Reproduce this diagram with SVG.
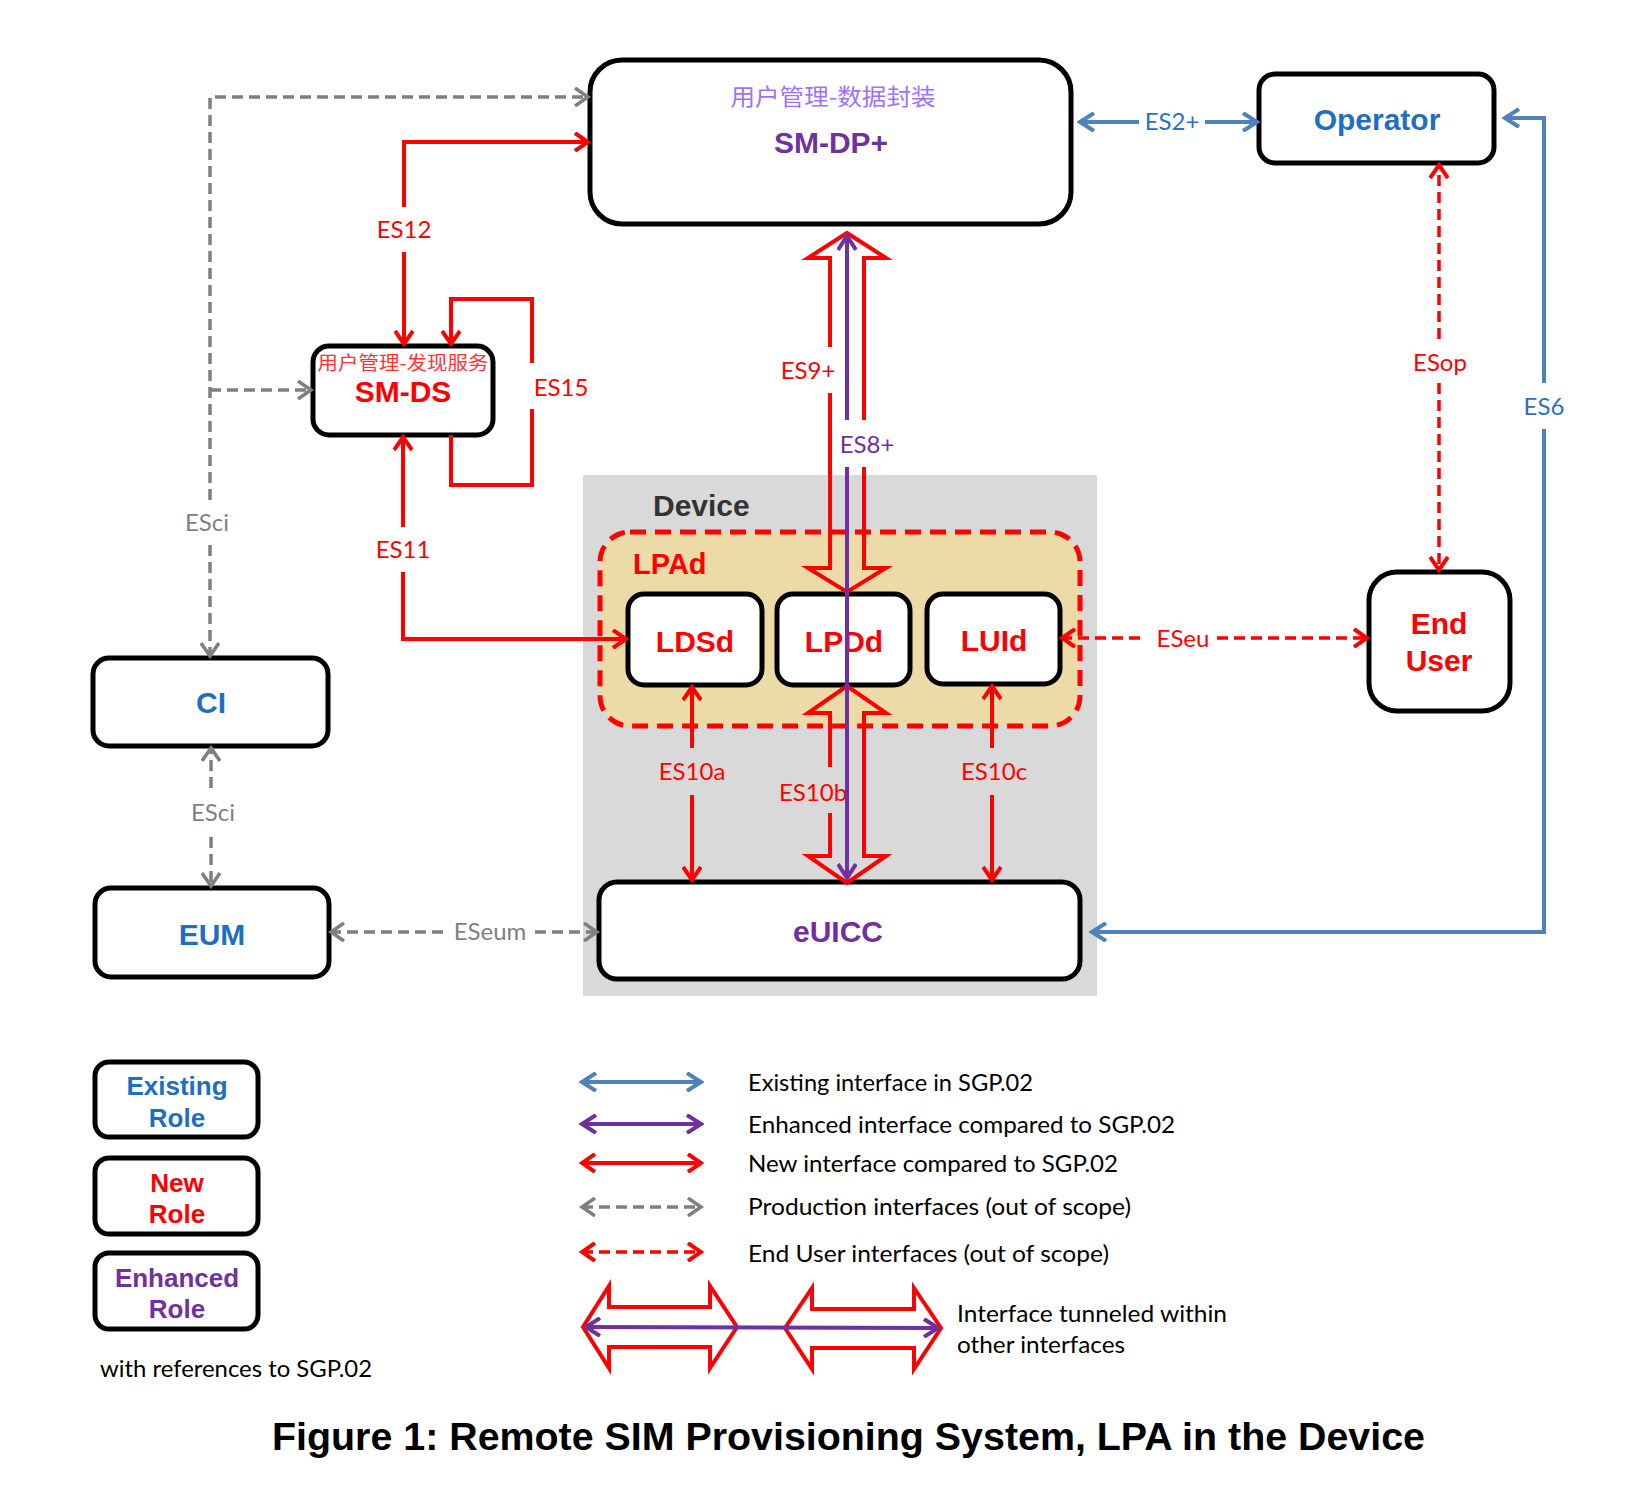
<svg xmlns="http://www.w3.org/2000/svg" width="1646" height="1486" viewBox="0 0 1646 1486">
<style>
.box{fill:#fff;stroke:#000;stroke-width:5}
.bl{font-family:"Liberation Sans",Arial,sans-serif;font-weight:bold;text-anchor:middle}
.lbl{font-family:Lato,"Liberation Sans",sans-serif;font-size:24px;text-anchor:middle}
.leg{font-family:Lato,"Liberation Sans",sans-serif;font-size:24px;fill:#000}
.cn{font-family:"Noto Sans CJK SC","Noto Sans",sans-serif;text-anchor:middle}
.red{fill:#ff0000}.pur{fill:#7030a0}.blu{fill:#1f6fc1}.gry{fill:#7f7f7f}
.cr{fill:none;stroke:#ff0000;stroke-width:4}
.cb{fill:none;stroke:#4f81bd;stroke-width:4}
.cp{fill:none;stroke:#7030a0;stroke-width:4}
.cg{fill:none;stroke:#7f7f7f;stroke-width:3.5;stroke-dasharray:11 6}
.crd{fill:none;stroke:#ff0000;stroke-width:3.5;stroke-dasharray:11 6}
.hol{fill:none;stroke:#ff0000;stroke-width:4;stroke-linejoin:miter}
</style>
<defs>
<marker id="mr" viewBox="0 0 20 20" refX="17" refY="10" markerWidth="20" markerHeight="20" markerUnits="userSpaceOnUse" orient="auto-start-reverse"><path d="M4,1 L17,10 L4,19" fill="none" stroke="#ff0000" stroke-width="4"/></marker>
<marker id="mb" viewBox="0 0 20 20" refX="17" refY="10" markerWidth="20" markerHeight="20" markerUnits="userSpaceOnUse" orient="auto-start-reverse"><path d="M3,1 L17,10 L3,19" fill="none" stroke="#4f81bd" stroke-width="4"/></marker>
<marker id="mp" viewBox="0 0 20 20" refX="17" refY="10" markerWidth="20" markerHeight="20" markerUnits="userSpaceOnUse" orient="auto-start-reverse"><path d="M3,1 L17,10 L3,19" fill="none" stroke="#7030a0" stroke-width="4"/></marker>
<marker id="mg" viewBox="0 0 20 20" refX="17" refY="10" markerWidth="20" markerHeight="20" markerUnits="userSpaceOnUse" orient="auto-start-reverse"><path d="M4,1 L17,10 L4,19" fill="none" stroke="#7f7f7f" stroke-width="3.5"/></marker>
</defs>
<rect width="1646" height="1486" fill="#fff"/>

<g id="device">
<rect x="583" y="475" width="514" height="521" fill="#d9d9d9"/>
<text x="653" y="516" font-family="Liberation Sans,Arial,sans-serif" font-weight="bold" font-size="30" fill="#333">Device</text>
</g>
<g id="lpad">
<rect x="600" y="532" width="480" height="194" rx="30" fill="#ecdba6" stroke="#ff0000" stroke-width="5" stroke-dasharray="16 9"/>
<text x="633" y="574" font-family="Liberation Sans,Arial,sans-serif" font-weight="bold" font-size="29" class="red">LPAd</text>
</g>

<g id="smdp">
<rect class="box" x="590" y="60" width="481" height="164" rx="32"/>
<text class="cn" x="833" y="105" font-size="23" fill="#a070ff" textLength="205" lengthAdjust="spacingAndGlyphs">用户管理-数据封装</text>
<text class="bl pur" x="831" y="153" font-size="30">SM-DP+</text>
</g>
<g id="operator">
<rect class="box" x="1259" y="74" width="235" height="89" rx="16"/>
<text class="bl blu" x="1377" y="130" font-size="30">Operator</text>
</g>
<g id="smds">
<rect class="box" x="313" y="346" width="180" height="89" rx="16"/>
<text class="cn" x="403" y="370" font-size="19" fill="#ff3333" textLength="171" lengthAdjust="spacingAndGlyphs">用户管理-发现服务</text>
<text class="bl red" x="403" y="402" font-size="30">SM-DS</text>
</g>
<g id="ci">
<rect class="box" x="93" y="658" width="235" height="88" rx="16"/>
<text class="bl blu" x="211" y="713" font-size="30">CI</text>
</g>
<g id="eum">
<rect class="box" x="95" y="888" width="234" height="89" rx="16"/>
<text class="bl blu" x="212" y="945" font-size="30">EUM</text>
</g>
<g id="enduser">
<rect class="box" x="1369" y="572" width="141" height="139" rx="28"/>
<text class="bl red" x="1439" y="634" font-size="30">End</text>
<text class="bl red" x="1439" y="671" font-size="30">User</text>
</g>
<g id="ldsd">
<rect class="box" x="628" y="594" width="134" height="91" rx="16"/>
<text class="bl red" x="695" y="652" font-size="30">LDSd</text>
</g>
<g id="lpdd">
<rect class="box" x="777" y="594" width="133" height="91" rx="16"/>
<text class="bl red" x="844" y="652" font-size="30">LPDd</text>
</g>
<g id="luid">
<rect class="box" x="927" y="594" width="133" height="90" rx="16"/>
<text class="bl red" x="994" y="651" font-size="30">LUId</text>
</g>
<g id="euicc">
<rect class="box" x="599" y="882" width="481" height="97" rx="18"/>
<text class="bl pur" x="838" y="942" font-size="30">eUICC</text>
</g>

<g id="connectors">
<!-- ES12 -->
<path class="cr" d="M404,207 L404,142 L588,142" marker-end="url(#mr)"/>
<path class="cr" d="M404,252 L404,344" marker-end="url(#mr)"/>
<text class="lbl red" x="404" y="238">ES12</text>
<!-- ES15 -->
<path class="cr" d="M451,435 L451,485 L532,485 L532,409"/>
<path class="cr" d="M532,363 L532,299 L451,299 L451,344" marker-end="url(#mr)"/>
<text class="lbl red" x="561" y="396">ES15</text>
<!-- ES11 -->
<path class="cr" d="M403,527 L403,437" marker-end="url(#mr)"/>
<path class="cr" d="M403,572 L403,639 L626,639" marker-end="url(#mr)"/>
<text class="lbl red" x="403" y="558">ES11</text>
<!-- ES9+ hollow -->
<path class="hol" d="M830,347 L830,258 L808,258 L847,233 L886,258 L864,258 L864,420"/>
<path class="hol" d="M864,467 L864,568 L886,568 L847,592 L808,568 L830,568 L830,393"/>
<text class="lbl red" x="808" y="379">ES9+</text>
<!-- ES10b hollow -->
<path class="hol" d="M830,767 L830,713 L808,713 L847,686 L886,713 L864,713 L864,856 L886,856 L847,883 L808,856 L830,856 L830,813"/>
<text class="lbl red" x="813" y="801">ES10b</text>
<!-- ES8+ -->
<path class="cp" d="M847,420 L847,236" marker-end="url(#mp)"/>
<path class="cp" d="M847,467 L847,878" marker-end="url(#mp)"/>
<text class="lbl pur" x="867" y="453">ES8+</text>
<!-- ES10a -->
<path class="cr" d="M692,748 L692,687" marker-end="url(#mr)"/>
<path class="cr" d="M692,795 L692,880" marker-end="url(#mr)"/>
<text class="lbl red" x="692" y="780">ES10a</text>
<!-- ES10c -->
<path class="cr" d="M992,748 L992,686" marker-end="url(#mr)"/>
<path class="cr" d="M992,795 L992,880" marker-end="url(#mr)"/>
<text class="lbl red" x="994" y="780">ES10c</text>
<!-- ESci / production -->
<path class="cg" d="M210,500 L210,97 L588,97" marker-end="url(#mg)"/>
<path class="cg" d="M210,390 L311,390" marker-end="url(#mg)"/>
<path class="cg" d="M210,545 L210,656" marker-end="url(#mg)"/>
<text class="lbl gry" x="207" y="531">ESci</text>
<path class="cg" d="M211,788 L211,748" marker-end="url(#mg)"/>
<path class="cg" d="M211,837 L211,886" marker-end="url(#mg)"/>
<text class="lbl gry" x="213" y="821">ESci</text>
<path class="cg" d="M443,932 L331,932" marker-end="url(#mg)"/>
<path class="cg" d="M535,932 L597,932" marker-end="url(#mg)"/>
<text class="lbl gry" x="490" y="940">ESeum</text>
<!-- ESeu -->
<path class="crd" d="M1140,638 L1062,638" marker-end="url(#mr)"/>
<path class="crd" d="M1217,638 L1367,638" marker-end="url(#mr)"/>
<text class="lbl red" x="1183" y="647">ESeu</text>
<!-- ESop -->
<path class="crd" d="M1439,339 L1439,165" marker-end="url(#mr)"/>
<path class="crd" d="M1439,383 L1439,570" marker-end="url(#mr)"/>
<text class="lbl red" x="1440" y="371">ESop</text>
<!-- ES2+ -->
<path class="cb" d="M1139,122 L1080,122" marker-end="url(#mb)"/>
<path class="cb" d="M1205,122 L1257,122" marker-end="url(#mb)"/>
<text class="lbl" x="1172" y="130" fill="#2e6fc0">ES2+</text>
<!-- ES6 -->
<path class="cb" d="M1544,383 L1544,118 L1505,118" marker-end="url(#mb)"/>
<path class="cb" d="M1544,429 L1544,932 L1092,932" marker-end="url(#mb)"/>
<text class="lbl" x="1544" y="415" fill="#2e6fc0">ES6</text>
</g>

<g id="legend-roles">
<rect class="box" x="95" y="1062" width="163" height="75" rx="14"/>
<text class="bl blu" x="177" y="1095" font-size="26">Existing</text>
<text class="bl blu" x="177" y="1127" font-size="26">Role</text>
<rect class="box" x="95" y="1158" width="163" height="76" rx="14"/>
<text class="bl red" x="177" y="1192" font-size="26">New</text>
<text class="bl red" x="177" y="1223" font-size="26">Role</text>
<rect class="box" x="95" y="1253" width="163" height="76" rx="14"/>
<text class="bl pur" x="177" y="1287" font-size="26">Enhanced</text>
<text class="bl pur" x="177" y="1318" font-size="26">Role</text>
<text class="leg" x="100" y="1377" textLength="272" lengthAdjust="spacingAndGlyphs">with references to SGP.02</text>
</g>

<g id="legend-lines">
<path class="cb" d="M582,1082 L701,1082" marker-start="url(#mb)" marker-end="url(#mb)"/>
<path class="cp" d="M582,1124 L701,1124" marker-start="url(#mp)" marker-end="url(#mp)"/>
<path class="cr" d="M582,1163 L701,1163" marker-start="url(#mr)" marker-end="url(#mr)"/>
<path class="cg" d="M582,1207 L701,1207" marker-start="url(#mg)" marker-end="url(#mg)"/>
<path class="crd" d="M582,1252 L701,1252" marker-start="url(#mr)" marker-end="url(#mr)"/>
<text class="leg" x="748" y="1091" textLength="285" lengthAdjust="spacingAndGlyphs">Existing interface in SGP.02</text>
<text class="leg" x="748" y="1133" textLength="427" lengthAdjust="spacingAndGlyphs">Enhanced interface compared to SGP.02</text>
<text class="leg" x="748" y="1172" textLength="370" lengthAdjust="spacingAndGlyphs">New interface compared to SGP.02</text>
<text class="leg" x="748" y="1215" textLength="383" lengthAdjust="spacingAndGlyphs">Production interfaces (out of scope)</text>
<text class="leg" x="748" y="1262" textLength="361" lengthAdjust="spacingAndGlyphs">End User interfaces (out of scope)</text>
<path class="hol" d="M583,1327 L609,1286 L609,1307 L710,1307 L710,1286 L737,1327 L710,1368 L710,1347 L609,1347 L609,1368 Z"/>
<path class="hol" d="M785,1328 L812,1288 L812,1309 L914,1309 L914,1288 L941,1328 L914,1369 L914,1348 L812,1348 L812,1369 Z"/>
<path class="cp" d="M586,1327 L938,1328" marker-start="url(#mp)" marker-end="url(#mp)"/>
<text class="leg" x="957" y="1322" textLength="270" lengthAdjust="spacingAndGlyphs">Interface tunneled within</text>
<text class="leg" x="957" y="1353" textLength="168" lengthAdjust="spacingAndGlyphs">other interfaces</text>
</g>

<text x="272" y="1450" font-family="Liberation Sans,Arial,sans-serif" font-weight="bold" font-size="38" fill="#000" textLength="1153" lengthAdjust="spacingAndGlyphs">Figure 1: Remote SIM Provisioning System, LPA in the Device</text>
</svg>
